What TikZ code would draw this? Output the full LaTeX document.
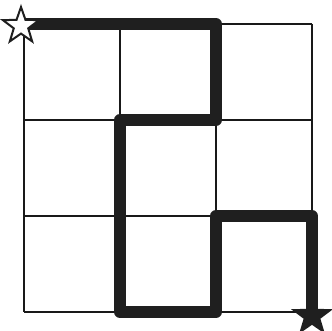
\documentclass[tikz,border=0pt]{standalone}
\usetikzlibrary{shapes.geometric}
\begin{document}
\begin{tikzpicture}[x=1pt,y=-1pt,
  gridline/.style={line width=2.2pt,black!90},
  route/.style={line width=12pt,black!88,line join=round,line cap=round},
  starmark/.style={star,star points=5,star point ratio=2.5,minimum size=38pt,inner sep=0pt,draw=black!88,line width=2pt}]
\useasboundingbox (0,0) rectangle (332,331);
% grid
\foreach \i in {0,1,2,3}{
  \draw[gridline] (24+96*\i,24) -- (24+96*\i,312);
  \draw[gridline] (24,24+96*\i) -- (312,24+96*\i);
}
% route corners
\coordinate (p0) at (24,24);
\coordinate (p1) at (216,24);
\coordinate (p2) at (216,120);
\coordinate (p3) at (120,120);
\coordinate (p4) at (120,312);
\coordinate (p5) at (216,312);
\coordinate (p6) at (216,216);
\coordinate (p7) at (312,216);
\coordinate (p8) at (312,312);
\draw[route] (p0) -- (p1) -- (p2) -- (p3) -- (p4) -- (p5) -- (p6) -- (p7) -- (p8);
% stars
\node[starmark,fill=white] (start) at (21,26) {};
\node[starmark,fill=black!88] (goal) at (312,316) {};
\end{tikzpicture}
\end{document}
